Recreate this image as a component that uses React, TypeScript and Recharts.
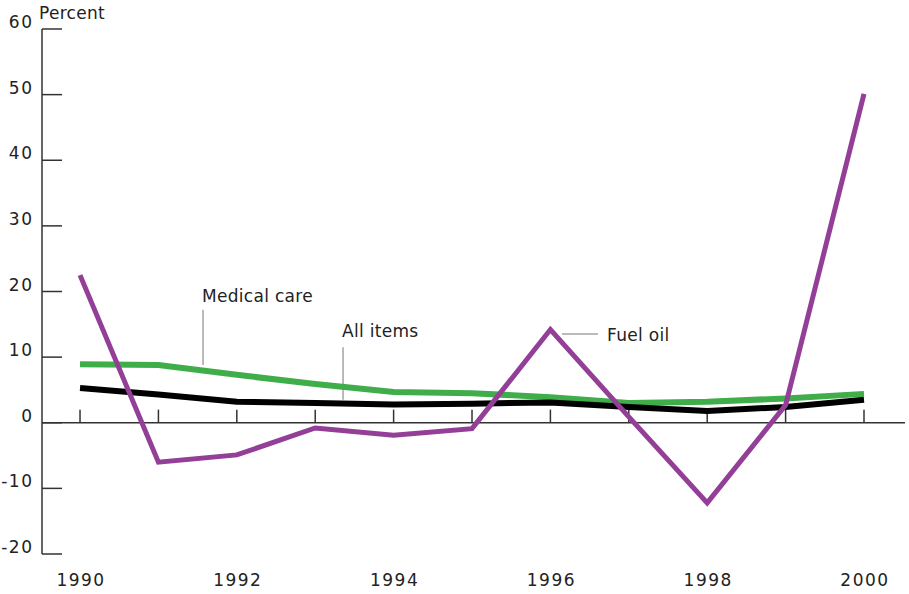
import {
  LineChart,
  Line,
  XAxis,
  YAxis,
  ReferenceLine,
} from 'recharts';

const years = [1990, 1991, 1992, 1993, 1994, 1995, 1996, 1997, 1998, 1999, 2000];
const fuelOil = [22.5, -6.0, -4.9, -0.8, -1.9, -0.9, 14.2, 0.9, -12.2, 2.7, 50.1];
const medicalCare = [8.9, 8.8, 7.3, 5.9, 4.7, 4.5, 3.9, 3.0, 3.2, 3.7, 4.4];
const allItems = [5.3, 4.3, 3.2, 3.0, 2.8, 2.9, 3.1, 2.4, 1.8, 2.4, 3.5];

const yTicks = [-20, -10, 0, 10, 20, 30, 40, 50, 60];
const xLabels = [1990, 1992, 1994, 1996, 1998, 2000];

const font = '"DejaVu Sans", sans-serif';
const ink = '#222';
const axisColor = '#333';

const chartData = years.map((year, i) => ({
  year,
  fuel: fuelOil[i],
  medical: medicalCare[i],
  all: allItems[i],
}));

const textStyle = { fontFamily: font, fontSize: 17, fill: ink, letterSpacing: 0.3 };
const numStyle = { fontFamily: font, fontSize: 17, fill: ink, letterSpacing: 1.5 };

export default function App() {
  return (
    <div style={{ position: 'absolute', left: 0, top: 0, background: '#fff' }}>
      <LineChart
        width={909}
        height={594}
        data={chartData}
        margin={{ top: 29, right: 4, bottom: 0, left: 0 }}
      >
        <XAxis
          dataKey="year"
          type="number"
          domain={[1989.515, 2000.523]}
          allowDataOverflow
          ticks={xLabels}
          axisLine={false}
          tickLine={false}
          height={40}
          tick={(props: any) => (
            <text x={props.x + 1} y={props.y + 24} textAnchor="middle" style={numStyle}>
              {props.payload.value}
            </text>
          )}
        />
        <YAxis
          type="number"
          domain={[-20, 60]}
          ticks={yTicks}
          width={42}
          interval={0}
          axisLine={{ stroke: axisColor, strokeWidth: 1.5 }}
          tickLine={{ stroke: axisColor, strokeWidth: 1.5 }}
          tickSize={-20}
          tickMargin={30}
          tick={(props: any) => (
            <text
              x={props.x + 1.5}
              y={props.y - 1}
              textAnchor="end"
              style={numStyle}
            >
              {props.payload.value}
            </text>
          )}
          label={{
            content: (props: any) => (
              <text x={props.viewBox.x + 39} y={props.viewBox.y - 10} style={textStyle}>
                Percent
              </text>
            ),
          }}
        />

        <ReferenceLine y={0} stroke={axisColor} strokeWidth={1.5} />
        {years.map((yr) => (
          <ReferenceLine
            key={yr}
            segment={[
              { x: yr, y: 0 },
              { x: yr, y: 2 },
            ]}
            stroke={axisColor}
            strokeWidth={1.5}
          />
        ))}

        {/* annotation leaders */}
        <ReferenceLine
          segment={[
            { x: 1991.569, y: 8.8 },
            { x: 1991.569, y: 17.2 },
          ]}
          stroke="#777"
          strokeWidth={1}
          label={{
            content: (props: any) => (
              <text x={props.viewBox.x - 1} y={props.viewBox.y - 8} style={textStyle}>
                Medical care
              </text>
            ),
          }}
        />
        <ReferenceLine
          segment={[
            { x: 1993.355, y: 3.5 },
            { x: 1993.355, y: 11.5 },
          ]}
          stroke="#777"
          strokeWidth={1}
          label={{
            content: (props: any) => (
              <text x={props.viewBox.x - 1} y={props.viewBox.y - 10} style={textStyle}>
                All items
              </text>
            ),
          }}
        />
        <ReferenceLine
          segment={[
            { x: 1996.148, y: 13.52 },
            { x: 1996.607, y: 13.52 },
          ]}
          stroke="#777"
          strokeWidth={1}
          label={{
            content: (props: any) => (
              <text
                x={props.viewBox.x + props.viewBox.width + 9}
                y={props.viewBox.y + 7}
                style={textStyle}
              >
                Fuel oil
              </text>
            ),
          }}
        />

        <Line
          type="linear"
          dataKey="medical"
          stroke="#3fae4a"
          strokeWidth={6}
          dot={false}
          strokeLinejoin="miter"
          strokeLinecap="butt"
          isAnimationActive={false}
        />
        <Line
          type="linear"
          dataKey="all"
          stroke="#000"
          strokeWidth={6}
          dot={false}
          strokeLinejoin="miter"
          strokeLinecap="butt"
          isAnimationActive={false}
        />
        <Line
          type="linear"
          dataKey="fuel"
          stroke="#933f97"
          strokeWidth={5}
          dot={false}
          strokeLinejoin="miter"
          strokeLinecap="butt"
          isAnimationActive={false}
        />
      </LineChart>
    </div>
  );
}
